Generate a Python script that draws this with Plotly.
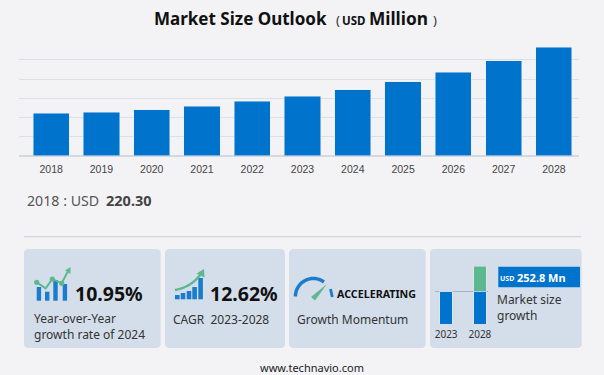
import math
import plotly.graph_objects as go

# ---- data ----
years = ["2018","2019","2020","2021","2022","2023","2024","2025","2026","2027","2028"]
market_size = [220.30,227,241,258,283,310,344,387,435,495,565]
y_ticks = [0,100,200,300,400,500,600]
mini_years = ["2023","2028"]
mini_base = [33,33]
mini_increment = [0,25]
mini_ticks = [33,58]

W, H = 604, 375
BG = "#F3F3F6"; CARD = "#D4DEEA"; BLUE = "#0074CC"; GREEN = "#5DB88F"
SANS = "Noto Sans, Open Sans, sans-serif"
ARIAL = "Liberation Sans, Arial, sans-serif"

def px(x): return x / W
def py(y): return 1 - y / H

def shape_path(d, fill=None, line=None, lw=0):
    return dict(type="path", path=d, xref="paper", yref="paper",
                fillcolor=fill, line=dict(color=line, width=lw), layer="below")

def P(points, close=True):
    s = "M " + " L ".join(f"{px(x):.5f},{py(y):.5f}" for x, y in points)
    return s + (" Z" if close else "")

def rrect(x0, y0, x1, y1, r=4):
    pts = []
    for cx, cy, a0 in [(x1-r,y0+r,-90),(x1-r,y1-r,0),(x0+r,y1-r,90),(x0+r,y0+r,180)]:
        for k in range(7):
            a = math.radians(a0 + k*15)
            pts.append((cx + r*math.cos(a), cy + r*math.sin(a)))
    return P(pts)

def rect(x0, y0, x1, y1, fill):
    return shape_path(P([(x0,y0),(x1,y0),(x1,y1),(x0,y1)]), fill=fill)

shapes = []
# cards
for x0, x1 in [(24,160.7),(165,285),(289,425.7),(430,581.7)]:
    shapes.append(shape_path(rrect(x0,249,x1,348), fill=CARD))
# separator
shapes.append(shape_path(P([(24,236.7),(581,236.7)], False), line="#C9CAD6", lw=1))

# card 1 icon
for x0, top in [(36.7,287),(45,291.7),(53.3,280),(62.7,284)]:
    shapes.append(rect(x0, top, x0+4.4, 300.7, "#1A7CCB"))
shapes.append(shape_path(P([(36.7,282.3),(45.7,288.3),(52.3,279),(61.7,283.3),(67.5,272)], False), line=GREEN, lw=2))
for cx, cy in [(36.7,282.3),(52.3,279),(61.7,283.3)]:
    shapes.append(dict(type="circle", xref="paper", yref="paper", layer="below",
                       x0=px(cx-2.6), x1=px(cx+2.6), y0=py(cy+2.6), y1=py(cy-2.6),
                       fillcolor=GREEN, line=dict(width=0)))
shapes.append(shape_path(P([(65,270.5),(70.5,267),(70.5,274)]), fill=GREEN))

# card 2 icon
for x0, top in [(175,295),(180.7,293),(186.7,291),(192.3,287),(198.3,278)]:
    shapes.append(rect(x0, top, x0+4.6, 299.3, "#1A7CCB"))
curve = []
for k in range(13):
    t = k/12
    curve.append(((1-t)**2*175+2*t*(1-t)*192+t*t*201.5, (1-t)**2*290+2*t*(1-t)*287+t*t*273))
shapes.append(shape_path(P(curve, False), line=GREEN, lw=2.4))
shapes.append(shape_path(P([(196.5,273.5),(204,269),(204.5,277.5)]), fill=GREEN))

# card 3 gauge
cx, cy, r = 313.4, 296.5, 18
arc = [(cx + r*math.cos(math.radians(a)), cy + r*math.sin(math.radians(a))) for a in range(-180, -48, 6)]
shapes.append(shape_path(P(arc, False), line="#1A7CCB", lw=3.5))
shapes.append(shape_path(P([(330.5,289),(332.3,297)], False), line="#1A7CCB", lw=2.8))
shapes.append(shape_path(P([(327,284),(311,297),(315,300.5)]), fill=GREEN))

# card 4 value box
shapes.append(rect(498.3,266.7,580,287.3,BLUE))

fig = go.Figure()
fig.add_trace(go.Bar(x=years, y=market_size, marker_color=BLUE, width=0.72,
                     xaxis="x", yaxis="y", showlegend=False))
fig.add_trace(go.Bar(x=mini_years, y=mini_base, marker_color=BLUE, width=0.367,
                     xaxis="x2", yaxis="y2", showlegend=False))
fig.add_trace(go.Bar(x=mini_years, y=mini_increment, marker_color=GREEN, width=0.367,
                     xaxis="x2", yaxis="y2", showlegend=False))

def ann(x, y, text, size, color="#333333", family=SANS, anchor="left"):
    return dict(x=px(x), y=py(y), xref="paper", yref="paper", text=text, showarrow=False,
                xanchor=anchor, yanchor="middle", align="left", borderpad=0,
                font=dict(size=size, color=color, family=family))

annotations = [
    ann(152.5, 19, "<b>Market Size Outlook</b>", 17, "#111111"),
    ann(335, 20, "(", 13, "#333333"),
    ann(341, 20.5, "<b>USD</b>", 11.5, "#111111"),
    ann(367.5, 19, "<b>Million</b>", 17.3, "#111111"),
    ann(432, 20, ")", 13, "#333333"),
    ann(25.5, 200, "2018 : USD", 14.2, "#555555"),
    ann(104.5, 200, "<b>220.30</b>", 14.5, "#444444"),
    ann(73.5, 293, "<b>10.95%</b>", 19.5, "#111111"),
    ann(32.5, 326.5, "Year-over-Year<br>growth rate of 2024", 12, "#333333"),
    ann(208.5, 293, "<b>12.62%</b>", 19.5, "#111111"),
    ann(171.5, 319, "CAGR  2023-2028", 12, "#333333"),
    ann(336, 294, "<b>ACCELERATING</b>", 10.7, "#111111"),
    ann(295.5, 319, "Growth Momentum", 12, "#333333"),
    ann(499, 278, "<b>USD</b>", 7, "#FFFFFF"),
    ann(516, 277.5, "<b>252.8 Mn</b>", 11, "#FFFFFF"),
    ann(495.5, 307.5, "Market size<br>growth", 12, "#333333"),
    ann(312, 367.7, "www.technavio.com", 11, "#222222", anchor="center"),
]

fig.update_layout(
    width=W, height=H, margin=dict(l=0, r=0, t=0, b=0, pad=0, autoexpand=False),
    paper_bgcolor=BG, plot_bgcolor="rgba(0,0,0,0)",
    barmode="stack", showlegend=False, shapes=shapes, annotations=annotations,
    xaxis=dict(domain=[px(18.5), px(579)], range=[-0.65, 10.5], type="category", automargin=False,
               showgrid=False, ticks="", showline=False, zeroline=False,
               tickfont=dict(size=10.5, color="#444444", family=ARIAL), ticklabelstandoff=6),
    yaxis=dict(domain=[py(155.7), py(39.74)], range=[0, 605], tickvals=y_ticks, automargin=False,
               showticklabels=False, gridcolor="#DEDFE6", gridwidth=1, zeroline=True,
               zerolinecolor="#D6D8E0", zerolinewidth=2, ticks=""),
    xaxis2=dict(domain=[px(435), px(488)], range=[-0.33, 1.24], type="category", anchor="y2", automargin=False,
                showgrid=False, ticks="", showline=False, zeroline=False,
                tickfont=dict(size=10, color="#333333", family=SANS), ticklabelstandoff=3),
    yaxis2=dict(domain=[py(324), py(265)], range=[0, 59], tickvals=mini_ticks, anchor="x2", automargin=False,
                showticklabels=False, gridcolor="#A9B0BB", gridwidth=1, zeroline=False, ticks=""),
)

fig.write_html("out.html", config={"displayModeBar": False},
               post_script="document.body.style.margin='0';")
